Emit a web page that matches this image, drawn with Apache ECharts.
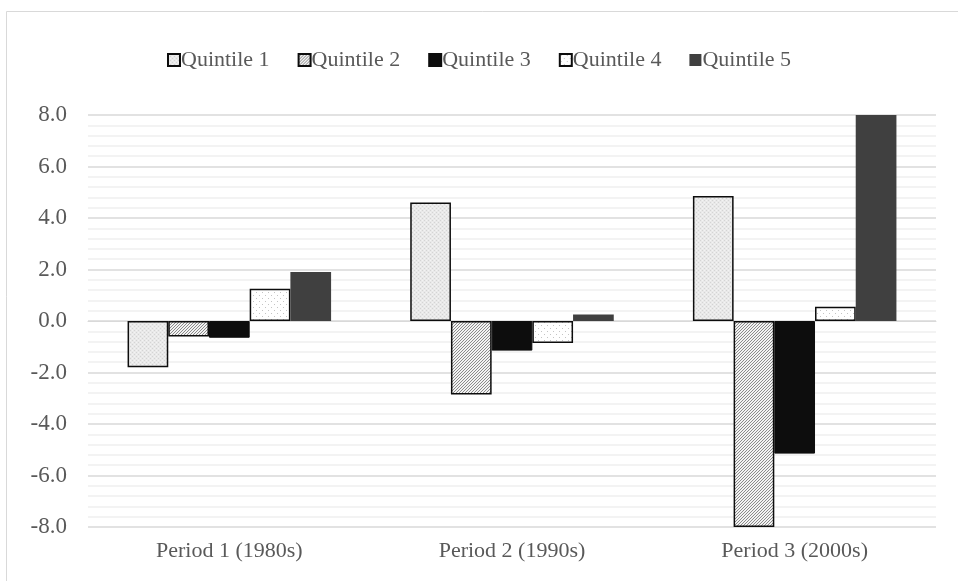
<!DOCTYPE html>
<html>
<head>
<meta charset="utf-8">
<script src="https://cdn.jsdelivr.net/npm/echarts@6/dist/echarts.min.js"></script>
<style>
  html, body { margin: 0; padding: 0; background: #ffffff; }
  #chart { width: 958px; height: 581px; }
</style>
</head>
<body>
<div id="chart"></div>
<script>
// Change by income quintile across three decades
const categories = ['Period 1 (1980s)', 'Period 2 (1990s)', 'Period 3 (2000s)'];
const seriesNames = ['Quintile 1', 'Quintile 2', 'Quintile 3', 'Quintile 4', 'Quintile 5'];
const quintile1 = [-1.8, 4.6, 4.85];
const quintile2 = [-0.6, -2.85, -8.0];
const quintile3 = [-0.65, -1.15, -5.15];
const quintile4 = [1.25, -0.85, 0.55];
const quintile5 = [1.9, 0.25, 8.0];
const yTicks = { min: -8, max: 8, step: 2 };

// Small tiled canvases used as bar fills
function makeTile(size, draw) {
  const c = document.createElement('canvas');
  c.width = size; c.height = size;
  const ctx = c.getContext('2d');
  draw(ctx, size);
  return { image: c, repeat: 'repeat' };
}

// light grey, finely speckled
const fillDots = makeTile(4, (ctx, s) => {
  ctx.fillStyle = '#e9e9e9'; ctx.fillRect(0, 0, s, s);
  ctx.fillStyle = '#d4d4d4';
  ctx.fillRect(0, 0, 1, 1); ctx.fillRect(2, 2, 1, 1);
  ctx.fillStyle = '#f3f3f3';
  ctx.fillRect(2, 0, 1, 1); ctx.fillRect(0, 2, 1, 1);
});
// fine diagonal hatching
const fillHatch = makeTile(3, (ctx, s) => {
  ctx.fillStyle = '#f2f2f2'; ctx.fillRect(0, 0, s, s);
  ctx.fillStyle = '#8a8a8a';
  for (let i = 0; i < s; i++) ctx.fillRect(s - 1 - i, i, 1, 1);
});
// white with sparse grey dots
const fillSparse = makeTile(6, (ctx, s) => {
  ctx.fillStyle = '#ffffff'; ctx.fillRect(0, 0, s, s);
  ctx.fillStyle = '#c4c4c4';
  ctx.fillRect(1, 1, 1, 1); ctx.fillRect(4, 4, 1, 1);
});

const styles = [
  { color: fillDots, borderColor: '#0d0d0d', borderWidth: 1.5 },
  { color: fillHatch, borderColor: '#0d0d0d', borderWidth: 1.5 },
  { color: '#0d0d0d', borderColor: '#0d0d0d', borderWidth: 1 },
  { color: fillSparse, borderColor: '#0d0d0d', borderWidth: 1.5 },
  { color: '#404040', borderWidth: 0 }
];
const values = [quintile1, quintile2, quintile3, quintile4, quintile5];

const font = '"Liberation Serif", "Times New Roman", serif';
const textColor = '#595959';

const chart = echarts.init(document.getElementById('chart'), null, { renderer: 'canvas' });
chart.setOption({
  animation: false,
  backgroundColor: '#ffffff',
  graphic: [{
    type: 'rect',
    shape: { x: 6.5, y: 11.5, width: 1200, height: 1200 },
    style: { fill: 'none', stroke: '#d9d9d9', lineWidth: 1 },
    silent: true, z: -1
  }],
  legend: {
    top: 44,
    left: 'center',
    icon: 'rect',
    itemWidth: 12,
    itemHeight: 12,
    itemGap: 28,
    textStyle: { fontFamily: font, fontSize: 22, color: textColor, padding: [0, 0, 0, -4] },
    data: seriesNames
  },
  grid: { left: 88, right: 22, top: 115, bottom: 54, containLabel: false },
  xAxis: {
    type: 'category',
    data: categories,
    axisLine: { show: true, lineStyle: { color: '#d9d9d9', width: 1 } },
    axisTick: { show: false },
    axisLabel: { fontFamily: font, fontSize: 22, color: textColor, margin: 13 },
    splitLine: { show: false }
  },
  yAxis: {
    type: 'value',
    min: yTicks.min,
    max: yTicks.max,
    interval: yTicks.step,
    axisLine: { show: false },
    axisTick: { show: false },
    axisLabel: {
      fontFamily: font, fontSize: 23, color: textColor, margin: 21,
      formatter: v => v.toFixed(1)
    },
    splitLine: { show: true, lineStyle: { color: '#d9d9d9', width: 1.5 } },
    minorTick: { show: false, splitNumber: 5 },
    minorSplitLine: { show: true, lineStyle: { color: '#f0f0f0', width: 1.5 } }
  },
  series: seriesNames.map((name, i) => ({
    name,
    type: 'bar',
    data: values[i],
    barGap: '0%',
    barCategoryGap: '28%',
    itemStyle: styles[i]
  }))
});
</script>
</body>
</html>
